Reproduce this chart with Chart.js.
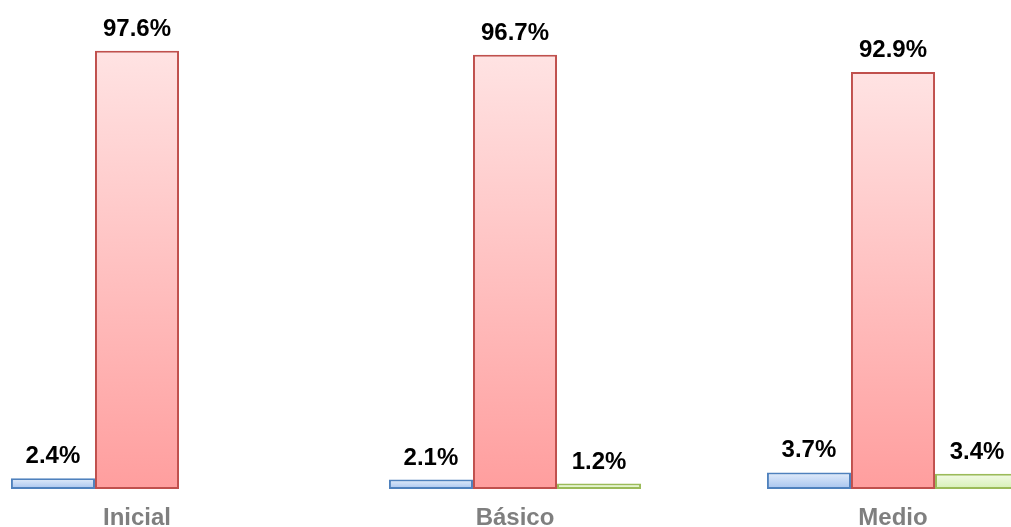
<!DOCTYPE html>
<html lang="es">
<head>
    <meta charset="UTF-8">
    <title>Niveles</title>
    <script src="https://cdn.jsdelivr.net/npm/chart.js"></script>
    <style>
        html, body { margin: 0; padding: 0; background: #fff; overflow: hidden; }
        body { width: 1011px; height: 527px; position: relative; }
        #wrap { position: absolute; left: -52px; top: 0; width: 1134px; height: 527px; }
    </style>
</head>
<body>
    <div id="wrap"><canvas id="barChart"></canvas></div>
    <script>
        // data
        const categories = ['Inicial', 'Básico', 'Medio'];
        const serieAzul = [2.4, 2.1, 3.7];
        const serieRoja = [97.6, 96.7, 92.9];
        const serieVerde = [null, 1.2, 3.4];

        // per-bar vertical gradient (light at top, darker at bottom)
        function barGradient(topColor, bottomColor) {
            return function(context) {
                const chart = context.chart;
                const area = chart.chartArea;
                if (!area || context.raw == null) return bottomColor;
                const y = chart.scales.y;
                const yTop = y.getPixelForValue(context.raw);
                const yBot = y.getPixelForValue(0);
                if (!(yBot > yTop)) return bottomColor;
                const g = chart.ctx.createLinearGradient(0, yTop, 0, yBot);
                g.addColorStop(0, topColor);
                g.addColorStop(1, bottomColor);
                return g;
            };
        }

        // value labels above each bar
        const valueLabels = {
            id: 'valueLabels',
            afterDatasetsDraw(chart) {
                const ctx = chart.ctx;
                ctx.save();
                ctx.font = 'bold 24px "Liberation Sans", Arial, sans-serif';
                ctx.fillStyle = '#000';
                ctx.textAlign = 'center';
                ctx.textBaseline = 'alphabetic';
                chart.data.datasets.forEach(function(ds, i) {
                    chart.getDatasetMeta(i).data.forEach(function(bar, j) {
                        const v = ds.data[j];
                        if (v == null) return;
                        ctx.fillText(v.toFixed(1) + '%', bar.x, bar.y - 15);
                    });
                });
                ctx.restore();
            }
        };

        new Chart(document.getElementById('barChart'), {
            type: 'bar',
            data: {
                labels: categories,
                datasets: [
                    {
                        label: 'Azul',
                        data: serieAzul,
                        backgroundColor: barGradient('#e3edfb', '#a6c3ee'),
                        borderColor: '#4f81bd',
                        borderWidth: 2
                    },
                    {
                        label: 'Rojo',
                        data: serieRoja,
                        backgroundColor: barGradient('#ffe3e3', '#ff9e9e'),
                        borderColor: '#c0504d',
                        borderWidth: 2
                    },
                    {
                        label: 'Verde',
                        data: serieVerde,
                        backgroundColor: barGradient('#f3fbe7', '#d6f0b5'),
                        borderColor: '#9bbb59',
                        borderWidth: 2
                    }
                ]
            },
            options: {
                responsive: true,
                maintainAspectRatio: false,
                animation: false,
                categoryPercentage: 0.667,
                barPercentage: 1.0,
                borderSkipped: false,
                layout: { padding: { top: 40, bottom: 0, left: 0, right: 0 } },
                plugins: {
                    legend: { display: false },
                    tooltip: { enabled: false }
                },
                scales: {
                    x: {
                        grid: { display: false, drawTicks: false },
                        border: { display: false },
                        afterFit: function(scale) { scale.height = 38; },
                        ticks: {
                            color: '#7f7f7f',
                            padding: 15,
                            font: { family: '"Liberation Sans", Arial, sans-serif', size: 24, weight: 'bold' }
                        }
                    },
                    y: {
                        display: false,
                        min: 0,
                        max: 100
                    }
                }
            },
            plugins: [valueLabels]
        });
    </script>
</body>
</html>
